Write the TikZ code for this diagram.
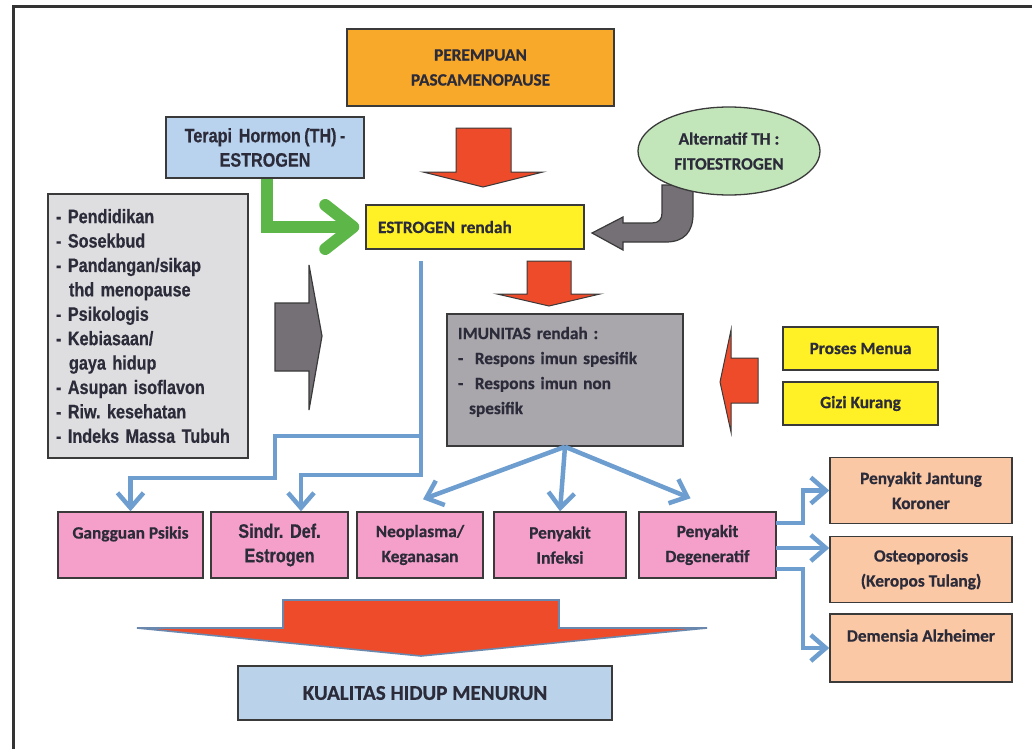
\documentclass[tikz,border=0pt]{standalone}
\usepackage{fontspec}
\setmainfont{Carlito}[BoldFeatures={FakeBold=0.6}]
\newfontfamily\narrowfont[FakeStretch=0.83,WordSpace=0.75,BoldFeatures={FakeBold=0.5}]{Liberation Sans}
\usetikzlibrary{arrows.meta,shapes.geometric}
\definecolor{txt}{HTML}{2B2B3A}
\definecolor{bord}{HTML}{3A3A3A}
\definecolor{orangebox}{HTML}{F8A92A}
\definecolor{terblue}{HTML}{B9D3EE}
\definecolor{yel}{HTML}{FFF126}
\definecolor{altgreen}{HTML}{C3E5BA}
\definecolor{lgray}{HTML}{DEDEE0}
\definecolor{imugray}{HTML}{A9A6AC}
\definecolor{pinkbox}{HTML}{F5A0CB}
\definecolor{peach}{HTML}{FBC8A5}
\definecolor{kuablue}{HTML}{BAD3EA}
\definecolor{conblue}{HTML}{6D9ECF}
\definecolor{arrgreen}{HTML}{5CB748}
\definecolor{arrgray}{HTML}{747075}
\definecolor{arrred}{HTML}{EE4B2B}
\definecolor{redrim}{HTML}{6A88AE}
\definecolor{framec}{HTML}{333333}
\begin{document}
\frenchspacing
\begin{tikzpicture}[x=1pt,y=-1pt,
  cbf/.style={font=\fontsize{17.3}{25}\selectfont\bfseries},
  nbf/.style={font=\narrowfont\fontsize{19.5}{24.4}\selectfont\bfseries},
  box/.style={draw=bord, line width=1.5pt, inner sep=2pt, align=center, text=txt},
  redarr/.style={fill=arrred, draw=bord, line width=1pt, line join=miter},
  grayarr/.style={fill=arrgray, draw=bord, line width=1.2pt},
  bl/.style={draw=conblue, line width=4.5pt, line join=miter, -{Straight Barb[length=15pt,width=26pt]}}]
\useasboundingbox (0,0) rectangle (1032,749);
\fill[white] (0,0) rectangle (1032,749);
% frame
\draw[framec, line width=3pt] (1032,7) -- (13,7) -- (13,749);

% block arrows (shapes)
\draw[redarr] (456,128) -- (511,128) -- (511,172) -- (543,172) -- (483,187) -- (423,172) -- (456,172) -- cycle;
\draw[redarr] (527,261) -- (571,261) -- (571,294) -- (600,294) -- (549,306) -- (497,294) -- (527,294) -- cycle;
\draw[redarr] (758,358) -- (758,403) -- (731,403) -- (731,432) -- (720,382) -- (731,330) -- (731,358) -- cycle;
\draw[grayarr] (275,303) -- (309,303) -- (309,265) -- (322,336) -- (309,410) -- (309,371) -- (275,371) -- cycle;
\draw[grayarr] (693,185) -- (693,214) .. controls (693,232) and (684,242) .. (666,242) -- (623,242) -- (623,250) -- (592,233) -- (623,217) -- (623,223) -- (652,223) .. controls (659,223) and (662,219) .. (662,213) -- (662,185) -- cycle;
\draw[fill=arrred, draw=redrim, line width=1.6pt, line join=miter] (283,600) -- (559,600) -- (559,628) -- (707,628) -- (421,656) -- (137,628) -- (283,628) -- cycle;

% nodes
\node[box, cbf, fill=orangebox, minimum width=267, minimum height=77] (per) at (480.5,67.5) {PEREMPUAN\\PASCAMENOPAUSE};
\node[box, nbf, fill=terblue, minimum width=198, minimum height=61] (ter) at (265,147.5) {Terapi\ \ Hormon (TH) -\\ESTROGEN};
\node[box, cbf, fill=altgreen, ellipse, inner sep=0pt, minimum width=182, minimum height=88, line width=1.3pt] (alt) at (729,151) {Alternatif TH :\\FITOESTROGEN};
\node[box, cbf, fill=yel, align=left, text width=194, inner xsep=12, minimum height=44] (est) at (475,227) {ESTROGEN rendah};
\node[box, nbf, fill=lgray, align=left, text width=184, inner xsep=8, minimum height=264] (lst) at (148,326) {- Pendidikan\\- Sosekbud\\- Pandangan/sikap\\\ \ thd menopause\\- Psikologis\\- Kebiasaan/\\\ \ gaya hidup\\- Asupan isoflavon\\- Riw. kesehatan\\- Indeks Massa Tubuh};
\node[box, cbf, fill=imugray, align=left, text width=214, inner xsep=11, minimum height=132] (imu) at (565,380) {IMUNITAS rendah :\\-\ \ Respons imun spesifik\\-\ \ Respons imun non\\\hphantom{-\ }spesifik\\[-6pt]~};
\node[box, cbf, fill=yel, minimum width=155, minimum height=43] (pro) at (860.5,348.5) {Proses Menua};
\node[box, cbf, fill=yel, minimum width=155, minimum height=43] (giz) at (860.5,403.5) {Gizi Kurang};

\node[box, cbf, fill=pinkbox, minimum width=145, minimum height=66] (gps) at (130.5,545) {Gangguan Psikis\\~};
\node[box, nbf, fill=pinkbox, minimum width=137, minimum height=66] (sdf) at (279.5,545) {Sindr.\ \ Def.\\Estrogen};
\node[box, cbf, fill=pinkbox, minimum width=126, minimum height=66] (neo) at (420,545) {Neoplasma/\\Keganasan};
\node[box, cbf, fill=pinkbox, minimum width=132, minimum height=66] (inf) at (560,545) {Penyakit\\Infeksi};
\node[box, cbf, fill=pinkbox, minimum width=137, minimum height=66] (deg) at (707.5,545) {Penyakit\\Degeneratif};

\node[box, cbf, fill=peach, minimum width=182, minimum height=66] (pjk) at (921,490.5) {Penyakit Jantung\\Koroner};
\node[box, cbf, fill=peach, minimum width=182, minimum height=66] (ost) at (921,569.5) {Osteoporosis\\(Keropos Tulang)};
\node[box, cbf, fill=peach, minimum width=182, minimum height=68] (dem) at (921,648) {Demensia Alzheimer\\~};

\node[box, fill=kuablue, font=\fontsize{21}{25}\selectfont\bfseries, minimum width=374, minimum height=54] (kua) at (425,693) {KUALITAS HIDUP MENURUN};

% green connector
\draw[arrgreen, line width=12pt, line join=miter, -{Straight Barb[length=28pt,width=44pt,round]}] (ter.south -| 267,0) |- ([xshift=-6pt]est.west);

% blue connectors
\coordinate (e1) at (421,261);
\draw[bl] (e1) |- (301,475) -- (301,0 |- sdf.north);
\draw[bl] (421,436) -| (275,478) -| (gps.north);
\draw[bl] (imu.south) -- ([xshift=3pt,yshift=12pt]neo.north);
\draw[bl] (imu.south) -- (inf.north);
\draw[bl] (imu.south) -- ([xshift=-17pt,yshift=13pt]deg.north);
\draw[bl] (776,523) -- (803,523) |- (pjk.west);
\draw[bl] (776,548) -- (ost.west |- 0,548);
\draw[bl] (776,569) -- (803,569) |- (dem.west);
\end{tikzpicture}
\end{document}
